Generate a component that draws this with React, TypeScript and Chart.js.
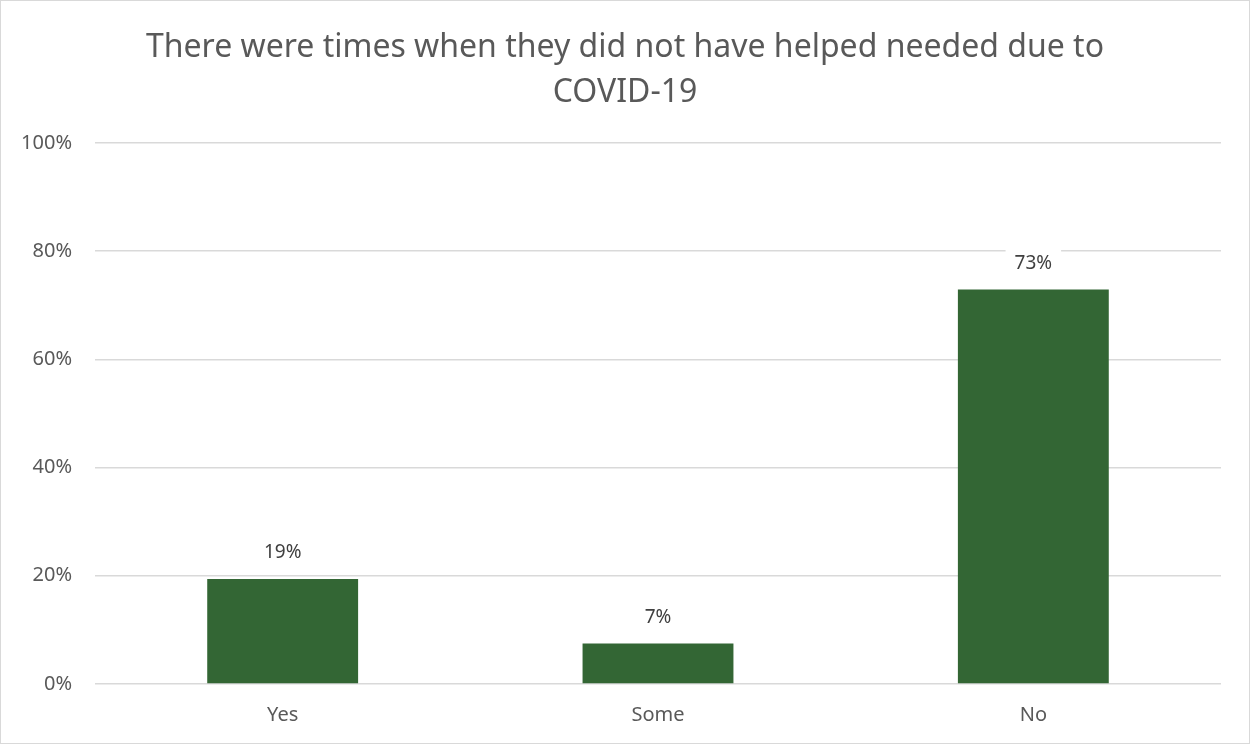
import React, { useEffect, useRef } from "react";
import { Chart, registerables } from "chart.js";

Chart.register(...registerables);

const categories = ["Yes", "Some", "No"];
const values = [19.4, 7.5, 72.9];
const valueLabels = ["19%", "7%", "73%"];
const titleLines = ["There were times when they did not have helped needed due to", "COVID-19"];
const yTicks = [0, 20, 40, 60, 80, 100];

const FONT = "'Noto Sans', sans-serif";
const TEXT = "#595959";

const labelPlugin = {
  id: "valueLabels",
  afterDatasetsDraw(chart: any) {
    const ctx = chart.ctx;
    const meta = chart.getDatasetMeta(0);
    ctx.save();
    ctx.font = `19px ${FONT}`;
    ctx.textAlign = "center";
    ctx.textBaseline = "middle";
    meta.data.forEach((bar: any, i: number) => {
      const text = valueLabels[i];
      const w = ctx.measureText(text).width + 18;
      const cy = bar.y - 26;
      ctx.fillStyle = "#ffffff";
      ctx.fillRect(bar.x - w / 2, cy - 14, w, 28);
      ctx.fillStyle = "#404040";
      ctx.fillText(text, bar.x, cy);
    });
    ctx.restore();
  },
};

export default function App() {
  const ref = useRef<HTMLCanvasElement>(null);
  useEffect(() => {
    if (!ref.current) return;
    const chart = new Chart(ref.current, {
      type: "bar",
      data: {
        labels: categories,
        datasets: [
          {
            data: values,
            backgroundColor: "#336634",
            barPercentage: 0.402,
            categoryPercentage: 1,
          },
        ],
      },
      plugins: [labelPlugin],
      options: {
        responsive: false,
        animation: false,
        layout: { padding: 0 },
        plugins: {
          legend: { display: false },
          tooltip: { enabled: false },
          title: {
            display: true,
            text: titleLines,
            color: TEXT,
            font: { family: FONT, size: 32, weight: "normal", lineHeight: 1.42 },
            padding: { top: 25, bottom: 27 },
          },
        },
        scales: {
          x: {
            grid: { display: false, drawTicks: false },
            border: { display: false },
            ticks: { color: TEXT, font: { family: FONT, size: 20 }, padding: 19 },
            afterFit: (s: any) => {
              s.height = 60;
            },
          },
          y: {
            min: 0,
            max: 100,
            afterBuildTicks: (s: any) => {
              s.ticks = yTicks.map((v) => ({ value: v }));
            },
            grid: { color: "#d9d9d9", lineWidth: 1.5, drawTicks: false },
            border: { display: false },
            ticks: {
              color: TEXT,
              font: { family: FONT, size: 20 },
              padding: 23,
              callback: (v: any) => `${v}%`,
            },
            afterFit: (s: any) => {
              s.width = 95;
            },
          },
          spacer: {
            type: "linear",
            position: "right",
            grid: { display: false, drawTicks: false },
            border: { display: false },
            ticks: { display: false },
            afterFit: (s: any) => {
              s.width = 29;
            },
          },
        },
      },
    });
    return () => chart.destroy();
  }, []);
  return (
    <div style={{ position: "fixed", left: 0, top: 0, width: 1250, height: 744, background: "#fff" }}>
      <canvas ref={ref} width={1250} height={744} style={{ display: "block" }} />
      <div
        style={{
          position: "absolute",
          left: 0,
          top: 0,
          width: 1250,
          height: 744,
          boxSizing: "border-box",
          border: "1.5px solid #d9d9d9",
          pointerEvents: "none",
        }}
      />
    </div>
  );
}
